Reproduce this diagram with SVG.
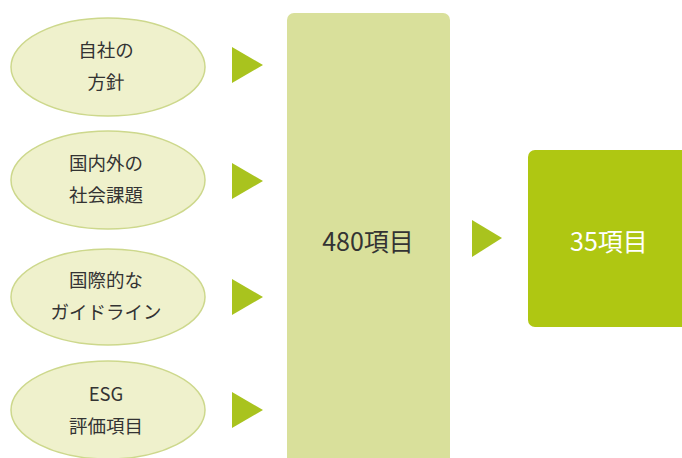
<svg xmlns="http://www.w3.org/2000/svg" width="682" height="458" viewBox="0 0 682 458">
<style>
.ell{fill:#eff1cc;stroke:#cdd88c;stroke-width:1.5}
.t{font-family:"Noto Sans CJK JP","Noto Sans",sans-serif;font-size:18.5px;fill:#333;text-anchor:middle}
.arr{fill:#a9c31e}
.big{font-family:"Noto Sans CJK JP","Noto Sans",sans-serif;font-size:25px;text-anchor:middle}
</style>
<rect width="682" height="458" fill="#ffffff"/>
<g id="n1"><ellipse class="ell" cx="108" cy="67" rx="97" ry="49"/><text class="t" x="106" y="57">自社の</text><text class="t" x="106" y="89">方針</text></g>
<g id="n2"><ellipse class="ell" cx="108" cy="180" rx="97" ry="49"/><text class="t" x="106" y="170">国内外の</text><text class="t" x="106" y="202">社会課題</text></g>
<g id="n3"><ellipse class="ell" cx="108" cy="297" rx="97" ry="48"/><text class="t" x="106" y="287">国際的な</text><text class="t" x="106" y="319">ガイドライン</text></g>
<g id="n4"><ellipse class="ell" cx="108" cy="410" rx="97" ry="49"/><text class="t" x="106" y="401">ESG</text><text class="t" x="106" y="433">評価項目</text></g>
<g id="n5"><rect x="287" y="13" width="163" height="460" rx="7" fill="#d9e09b"/><text class="big" x="368" y="251" fill="#333">480項目</text></g>
<g id="n6"><rect x="528" y="150" width="170" height="177" rx="7" fill="#afc712"/><text class="big" x="609" y="251" fill="#ffffff">35項目</text></g>
<g id="connectors">
<polygon class="arr" points="232,47 263,65 232,83"/>
<polygon class="arr" points="232,163 263,181 232,199"/>
<polygon class="arr" points="232,279 263,297 232,315"/>
<polygon class="arr" points="232,392 263,410 232,428"/>
<polygon class="arr" points="472,220 502,238 472,257"/>
</g>
</svg>
